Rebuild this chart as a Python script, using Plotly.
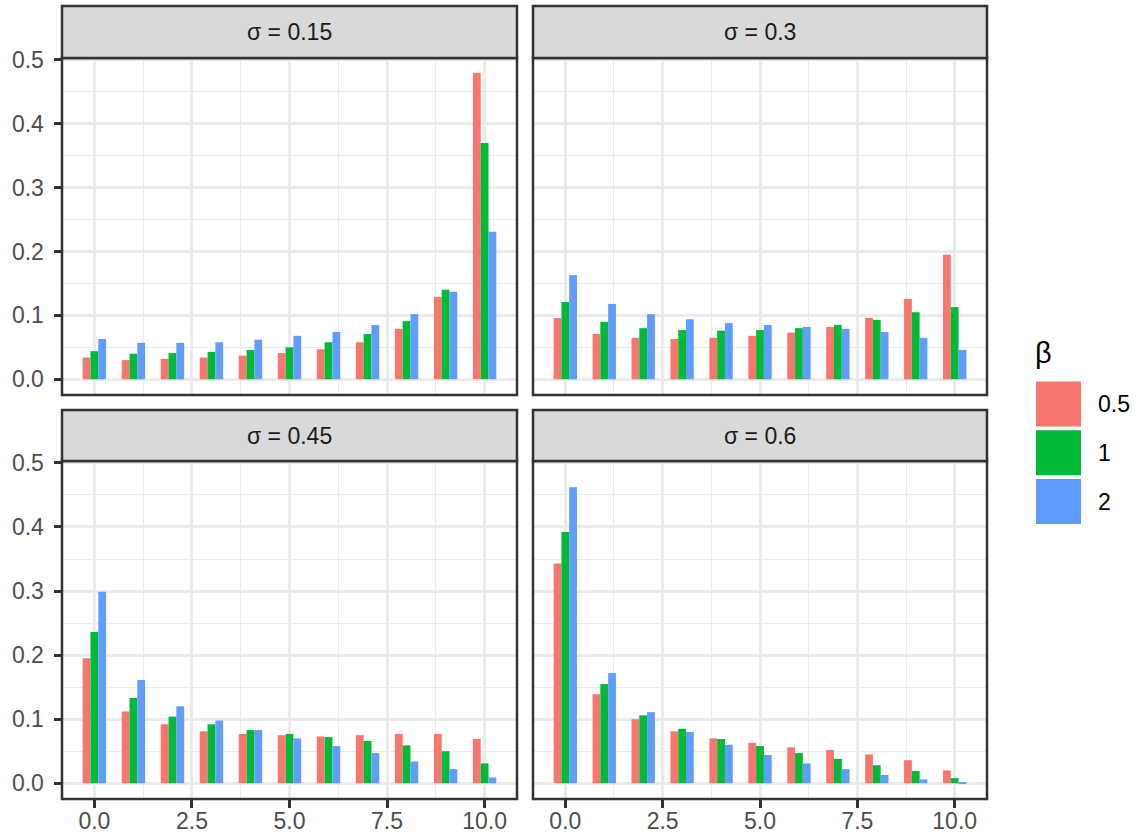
import plotly.graph_objects as go

# ---- data ----
x_vals = [0, 1, 2, 3, 4, 5, 6, 7, 8, 9, 10]
sigma_labels = ["σ = 0.15", "σ = 0.3", "σ = 0.45", "σ = 0.6"]
beta_labels = ["0.5", "1", "2"]
colors = ["#F8766D", "#00BA38", "#619CFF"]

s015_b05 = [0.034, 0.030, 0.032, 0.034, 0.037, 0.041, 0.047, 0.058, 0.079, 0.129, 0.480]
s015_b1 = [0.044, 0.040, 0.041, 0.043, 0.046, 0.050, 0.058, 0.071, 0.091, 0.140, 0.370]
s015_b2 = [0.063, 0.057, 0.057, 0.058, 0.062, 0.068, 0.074, 0.085, 0.102, 0.137, 0.231]

s030_b05 = [0.096, 0.071, 0.065, 0.063, 0.065, 0.068, 0.073, 0.082, 0.096, 0.126, 0.195]
s030_b1 = [0.121, 0.090, 0.080, 0.077, 0.076, 0.077, 0.080, 0.085, 0.093, 0.105, 0.113]
s030_b2 = [0.163, 0.118, 0.102, 0.094, 0.088, 0.085, 0.082, 0.079, 0.074, 0.065, 0.046]

s045_b05 = [0.195, 0.112, 0.092, 0.081, 0.077, 0.075, 0.073, 0.075, 0.077, 0.077, 0.069]
s045_b1 = [0.236, 0.133, 0.104, 0.092, 0.083, 0.077, 0.072, 0.066, 0.059, 0.050, 0.031]
s045_b2 = [0.299, 0.161, 0.120, 0.098, 0.083, 0.070, 0.058, 0.047, 0.034, 0.022, 0.009]

s060_b05 = [0.343, 0.139, 0.100, 0.081, 0.070, 0.063, 0.056, 0.052, 0.045, 0.036, 0.020]
s060_b1 = [0.392, 0.155, 0.106, 0.085, 0.069, 0.058, 0.047, 0.038, 0.028, 0.019, 0.008]
s060_b2 = [0.462, 0.172, 0.111, 0.080, 0.060, 0.044, 0.031, 0.022, 0.013, 0.006, 0.002]

panels = [
    [s015_b05, s015_b1, s015_b2],
    [s030_b05, s030_b1, s030_b2],
    [s045_b05, s045_b1, s045_b2],
    [s060_b05, s060_b1, s060_b2],
]

y_ticks = [0.0, 0.1, 0.2, 0.3, 0.4, 0.5]
x_ticks = [0.0, 2.5, 5.0, 7.5, 10.0]

# ---- layout geometry ----
W, H = 1140, 836
FONT = "Liberation Sans, Arial, Helvetica, sans-serif"
xdom = [[62 / W, 517 / W], [533 / W, 987 / W]]
ydom = [[1 - 395 / H, 1 - 58 / H], [1 - 799 / H, 1 - 461 / H]]
strip_h = [52 / H, 51 / H]

fig = go.Figure()
bar_w = 0.2
for p, series in enumerate(panels):
    ax = "" if p == 0 else str(p + 1)
    for i, vals in enumerate(series):
        fig.add_trace(go.Bar(
            x=x_vals, y=vals, width=bar_w, offset=-0.3 + i * bar_w,
            marker=dict(color=colors[i], line=dict(width=0)),
            xaxis="x" + ax, yaxis="y" + ax, showlegend=False,
            name=beta_labels[i],
        ))

layout = dict(
    width=W, height=H, autosize=False,
    margin=dict(l=0, r=0, t=0, b=0, pad=0, autoexpand=False),
    paper_bgcolor="white", plot_bgcolor="white", barmode="overlay",
    font=dict(family=FONT),
)
shapes = []
annotations = []
GRID = "#EBEBEB"
BORDER = "#333333"
for p in range(4):
    row, col = divmod(p, 2)
    ax = "" if p == 0 else str(p + 1)
    xd, yd = xdom[col], ydom[row]
    xa = dict(
        domain=xd, range=[-0.83, 10.83], anchor="y" + ax, automargin=False,
        tickvals=x_ticks, ticktext=["%.1f" % v for v in x_ticks],
        showgrid=True, gridcolor=GRID, gridwidth=2.5, zeroline=False,
        minor=dict(dtick=1.25, tick0=0, showgrid=True, gridcolor=GRID, gridwidth=1.3),
        tickfont=dict(size=23, color="#4D4D4D", family=FONT),
        ticks="outside" if row == 1 else "", ticklen=7.5, tickwidth=2.5, tickcolor=BORDER,
        showticklabels=(row == 1), ticklabelstandoff=-6,
    )
    ya = dict(
        domain=yd, range=[-0.0246, 0.503], anchor="x" + ax, automargin=False,
        tickvals=y_ticks, ticktext=["%.1f" % v for v in y_ticks],
        showgrid=True, gridcolor=GRID, gridwidth=2.5, zeroline=False,
        minor=dict(dtick=0.05, tick0=0, showgrid=True, gridcolor=GRID, gridwidth=1.3),
        tickfont=dict(size=23, color="#4D4D4D", family=FONT),
        ticks="outside" if col == 0 else "", ticklen=7.5, tickwidth=2.5, tickcolor=BORDER,
        showticklabels=(col == 0), ticklabelstandoff=5,
    )
    layout["xaxis" + ax] = xa
    layout["yaxis" + ax] = ya
    # panel border
    shapes.append(dict(type="rect", xref="paper", yref="paper",
                       x0=xd[0], x1=xd[1], y0=yd[0], y1=yd[1],
                       line=dict(color=BORDER, width=2.5), fillcolor="rgba(0,0,0,0)", layer="above"))
    # strip
    shapes.append(dict(type="rect", xref="paper", yref="paper",
                       x0=xd[0], x1=xd[1], y0=yd[1], y1=yd[1] + strip_h[row],
                       line=dict(color=BORDER, width=2.5), fillcolor="#D9D9D9", layer="above"))
    annotations.append(dict(xref="paper", yref="paper", x=(xd[0] + xd[1]) / 2,
                            y=yd[1] + strip_h[row] / 2, text=sigma_labels[p], showarrow=False,
                            xanchor="center", yanchor="middle",
                            font=dict(size=23, color="#1A1A1A", family=FONT)))

# legend (drawn manually to mimic ggplot key boxes)
annotations.append(dict(xref="paper", yref="paper", x=1033 / W, y=1 - 353 / H, text="β",
                        showarrow=False, xanchor="left", yanchor="middle",
                        font=dict(size=29, color="black", family=FONT)))
key_top, key_step, key_size = 381.5, 48.8, 45
for i, lab in enumerate(beta_labels):
    t = key_top + i * key_step
    shapes.append(dict(type="rect", xref="paper", yref="paper",
                       x0=1036 / W, x1=1081 / W, y0=1 - (t + key_size) / H, y1=1 - t / H,
                       line=dict(width=0), fillcolor=colors[i]))
    annotations.append(dict(xref="paper", yref="paper", x=1096 / W, y=1 - (t + key_size / 2) / H,
                            text=lab, showarrow=False, xanchor="left", yanchor="middle",
                            font=dict(size=23, color="black", family=FONT)))

layout["shapes"] = shapes
layout["annotations"] = annotations
fig.update_layout(**layout)

post = ("document.body.style.margin='0';document.body.style.overflow='hidden';"
        "var d=document.getElementById('{plot_id}');"
        "d.style.position='absolute';d.style.left='0px';d.style.top='0px';")
fig.write_html("out.html", post_script=post,
               config={"displayModeBar": False, "responsive": False})
